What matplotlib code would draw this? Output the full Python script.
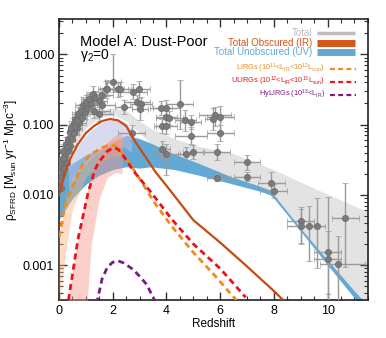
import numpy as np
import matplotlib
matplotlib.use('Agg')
import matplotlib.pyplot as plt
from matplotlib.ticker import MultipleLocator, FixedLocator, LogLocator, NullFormatter

plt.rcParams['font.family'] = ['Liberation Sans', 'DejaVu Sans']
plt.rcParams['mathtext.default'] = 'regular'

# ---- bands (log10 rho) ----
tot_z  = [0, 0.5, 1.0, 1.5, 2.0, 2.5, 3.0, 3.4, 4.3, 5.2, 6.4, 7.85, 8.0, 9.0, 10.0, 11.0, 11.5]
tot_hi = [-1.55, -1.2, -0.94, -0.81, -0.76, -0.8, -0.95, -1.05, -1.2, -1.31, -1.4, -1.62, -1.64, -1.82, -1.99, -2.16, -2.24]
tot_lo = [-1.84, -1.35, -1.05, -0.9, -0.86, -0.95, -1.12, -1.26, -1.42, -1.55, -1.74, -1.93, -2.0, -2.5, -2.96, -3.42, -3.64]

uv_z  = [0, 0.5, 1.0, 1.5, 2.0, 2.5, 3.0, 3.4, 4.3, 5.2, 6.4, 7.5, 7.85, 8.0, 9.0, 10.0, 11.0, 11.5]
uv_hi = [-1.74, -1.55, -1.43, -1.35, -1.25, -1.15, -1.2, -1.26, -1.42, -1.55, -1.74, -1.88, -1.93, -2.0, -2.48, -2.93, -3.37, -3.58]
uv_lo = [-2.35, -2.05, -1.85, -1.72, -1.64, -1.6, -1.62, -1.6, -1.64, -1.72, -1.84, -1.95, -2.0, -2.05, -2.52, -3.0, -3.47, -3.7]

lav_z  = [0.35, 0.8, 1.2, 1.6, 2.0, 2.4, 2.7]
lav_hi = [-1.55, -1.25, -1.08, -0.97, -0.92, -0.95, -1.05]
lav_lo = [-1.9, -1.65, -1.48, -1.36, -1.3, -1.32, -1.4]

lirgband_z  = [0.0, 0.25, 0.5, 1.0, 1.5, 2.0, 2.35]
lirgband_hi = [-2.6, -2.05, -1.75, -1.5, -1.33, -1.2, -1.18]
lirgband_lo = [-3.6, -2.8, -2.2, -1.75, -1.55, -1.45, -1.45]

uliband_z  = [0.3, 0.6, 0.9, 1.05, 1.2, 1.5, 1.8, 2.1, 2.35]
uliband_hi = [-3.6, -2.85, -2.2, -1.95, -1.65, -1.4, -1.25, -1.15, -1.12]
uliband_lo = [-4.5, -4.5, -4.5, -3.5, -2.7, -2.05, -1.75, -1.68, -1.7]

# ---- model curves ----
ir_z   = [0, 0.2, 0.4, 0.7, 1.0, 1.3, 1.6, 1.9, 2.2, 2.5, 2.8, 3.2, 3.6, 4.0, 5.0, 6.0, 7.0, 8.0, 8.4]
ir_log = [-2.0, -1.72, -1.5, -1.28, -1.12, -1.02, -0.95, -0.92, -0.94, -1.02, -1.22, -1.45, -1.68, -1.87, -2.36, -2.68, -3.02, -3.37, -3.52]

lirg_z   = [0, 0.25, 0.45, 0.9, 1.15, 1.6, 1.8, 2.1, 2.45, 2.95, 3.55, 4.2, 5.0, 5.8, 6.6]
lirg_log = [-2.6, -2.1, -1.93, -1.55, -1.43, -1.33, -1.3, -1.3, -1.45, -1.74, -2.11, -2.45, -2.82, -3.15, -3.5]

uli_z   = [0.35, 0.7, 1.08, 1.33, 1.45, 1.8, 2.0, 2.2, 2.5, 2.75, 3.5, 4.2, 5.0, 6.0, 6.95]
uli_log = [-3.5, -2.64, -1.97, -1.65, -1.55, -1.38, -1.33, -1.35, -1.5, -1.65, -2.0, -2.35, -2.7, -3.05, -3.46]

hy_z   = [1.4, 1.6, 1.8, 2.0, 2.2, 2.4, 2.75, 3.0, 3.27, 3.5, 3.6]
hy_log = [-3.55, -3.2, -3.03, -2.96, -2.94, -2.97, -3.06, -3.16, -3.28, -3.46, -3.53]

# ---- observational points: z, log rho, z-, z+, dex-, dex+ ----
obs_z = [0.03, 0.05, 0.08, 0.1, 0.12, 0.15, 0.18, 0.22, 0.25, 0.28, 0.32, 0.35, 0.4, 0.42, 0.48,
         0.52, 0.55, 0.6, 0.65, 0.7, 0.75, 0.8, 0.85, 0.9, 0.95, 1.0, 1.05, 1.1, 1.2, 1.25,
         1.35, 1.5, 1.6, 1.75, 1.78, 2.0, 2.2, 2.27, 2.4, 2.76, 2.98, 2.9, 3.05, 3.0, 1.5,
         1.3, 1.6, 4.5, 3.8, 4.0, 4.0, 4.1, 3.84, 4.0, 4.7, 4.9, 4.9, 3.84, 4.0, 4.72,
         5.0, 5.87, 5.8, 5.73, 6.0, 6.0, 2.7, 5.9, 7.0, 7.0, 7.9, 8.0, 9.0, 9.0, 9.3,
         9.6, 10.66, 10.0, 10.0, 10.4,
         0.06, 0.14, 0.2, 0.3, 0.45, 0.58, 0.68, 0.02]
obs_log = [-1.78, -1.62, -1.9, -1.5, -1.7, -1.38, -1.58, -1.45, -1.28, -1.55, -1.2, -1.38, -1.1, -1.3, -1.2,
           -1.0, -1.12, -0.92, -1.05, -0.85, -0.98, -0.8, -0.9, -0.72, -0.82, -0.68, -0.76, -0.64, -0.7, -0.57,
           -0.62, -0.66, -0.58, -0.5, -0.49, -0.39, -0.49, -0.49, -0.75, -0.54, -0.5, -0.68, -0.7, -0.78, -0.85,
           -0.8, -0.72, -0.71, -0.77, -0.77, -0.89, -0.9, -1.02, -1.02, -0.94, -0.96, -1.16, -1.35, -1.42, -1.42,
           -1.39, -1.39, -0.87, -0.92, -0.89, -1.12, -1.12, -1.76, -1.53, -1.74, -1.83, -1.94, -2.38, -2.45, -2.44,
           -2.44, -2.33, -2.81, -2.91, -2.99,
           -1.72, -1.48, -1.62, -1.32, -1.05, -1.02, -0.95, -1.68]
obs_zlo = [0.03, 0.05, 0.05, 0.1, 0.08, 0.1, 0.1, 0.1, 0.1, 0.1, 0.1, 0.15, 0.1, 0.2, 0.1,
           0.15, 0.2, 0.1, 0.2, 0.2, 0.25, 0.2, 0.2, 0.3, 0.2, 0.2, 0.3, 0.3, 0.2, 0.25,
           0.3, 0.3, 0.4, 0.3, 0.25, 0.3, 0.2, 0.4, 0.3, 0.5, 0.4, 0.5, 0.4, 0.3, 0.5,
           0.6, 0.5, 0.5, 0.4, 0.5, 0.4, 0.5, 0.3, 0.4, 0.4, 0.4, 0.6, 0.3, 0.5, 0.3,
           0.4, 0.5, 0.6, 0.3, 0.5, 0.5, 0.5, 0.4, 0.5, 0.5, 0.5, 0.5, 0.5, 0.5, 0.3,
           0.3, 0.5, 0.5, 0.5, 0.7,
           0.04, 0.06, 0.1, 0.1, 0.1, 0.1, 0.15, 0.02]
obs_zhi = [0.03, 0.05, 0.05, 0.1, 0.08, 0.1, 0.1, 0.1, 0.1, 0.1, 0.1, 0.15, 0.1, 0.2, 0.1,
           0.15, 0.2, 0.1, 0.2, 0.2, 0.25, 0.2, 0.2, 0.3, 0.2, 0.2, 0.3, 0.3, 0.2, 0.25,
           0.3, 0.3, 0.4, 0.3, 0.25, 0.3, 0.2, 0.4, 0.3, 0.5, 0.4, 0.5, 0.4, 0.3, 0.5,
           0.6, 0.5, 0.5, 0.4, 0.5, 0.4, 0.5, 0.3, 0.4, 0.4, 0.4, 0.6, 0.3, 0.5, 0.3,
           0.4, 0.5, 0.6, 0.3, 0.5, 0.5, 0.5, 0.5, 0.5, 0.5, 0.5, 0.5, 0.5, 0.5, 0.3,
           0.3, 0.5, 0.5, 0.5, 1.0,
           0.04, 0.06, 0.1, 0.1, 0.1, 0.1, 0.15, 0.02]
obs_dlo = [0.1, 0.12, 0.1, 0.15, 0.1, 0.15, 0.1, 0.12, 0.1, 0.12, 0.1, 0.12, 0.1, 0.1, 0.1,
           0.12, 0.1, 0.1, 0.1, 0.12, 0.1, 0.1, 0.1, 0.12, 0.1, 0.1, 0.12, 0.1, 0.1, 0.12,
           0.1, 0.12, 0.1, 0.12, 0.1, 0.15, 0.12, 0.1, 0.1, 0.1, 0.12, 0.1, 0.1, 0.15, 0.1,
           0.1, 0.1, 0.35, 0.1, 0.12, 0.15, 0.1, 0.1, 0.12, 0.15, 0.1, 0.12, 0.12, 0.3, 0.1,
           0.1, 0.12, 0.15, 0.15, 0.2, 0.12, 0.12, 0.05, 0.12, 0.06, 0.1, 0.1, 0.3, 0.25, 0.5,
           0.6, 0.7, 0.7, 0.5, 0.6,
           0.1, 0.1, 0.12, 0.1, 0.1, 0.1, 0.1, 0.1]
obs_dhi = [0.1, 0.1, 0.1, 0.12, 0.1, 0.1, 0.1, 0.12, 0.1, 0.1, 0.1, 0.1, 0.1, 0.1, 0.1,
           0.1, 0.1, 0.1, 0.1, 0.1, 0.1, 0.1, 0.1, 0.12, 0.1, 0.1, 0.1, 0.1, 0.1, 0.12,
           0.1, 0.12, 0.1, 0.12, 0.12, 0.4, 0.1, 0.1, 0.1, 0.12, 0.12, 0.1, 0.1, 0.1, 0.1,
           0.1, 0.1, 0.35, 0.1, 0.12, 0.1, 0.1, 0.1, 0.15, 0.15, 0.1, 0.12, 0.12, 0.15, 0.1,
           0.1, 0.12, 0.12, 0.15, 0.15, 0.12, 0.12, 0.06, 0.1, 0.07, 0.15, 0.1, 0.2, 0.25, 0.28,
           0.4, 0.5, 0.78, 0.4, 0.4,
           0.1, 0.1, 0.1, 0.1, 0.1, 0.1, 0.1, 0.1]

def p(a):
    return 10 ** np.array(a)

fig = plt.figure(figsize=(3.86, 3.38), dpi=100)
ax = fig.add_axes([0.153, 0.112, 0.800, 0.831])

ax.fill_between(tot_z, p(tot_lo), p(tot_hi), color='#e3e3e3', lw=0, zorder=1)
ax.fill_between(uv_z, p(uv_lo), p(uv_hi), color='#62a9d6', lw=0, zorder=2)
ax.fill_between(lav_z, p(lav_lo), p(lav_hi), color='#b9bde3', alpha=0.55, lw=0, zorder=3)
ax.fill_between(lirgband_z, p(lirgband_lo), p(lirgband_hi), color='#fbb27a', alpha=0.45, lw=0, zorder=3)
ax.fill_between(uliband_z, p(uliband_lo), p(uliband_hi), color='#f7968a', alpha=0.45, lw=0, zorder=3)

oz = np.array(obs_z)
ol = np.array(obs_log)
yv = 10 ** ol
yerr = [yv - 10 ** (ol - np.array(obs_dlo)), 10 ** (ol + np.array(obs_dhi)) - yv]
ax.errorbar(oz, yv, xerr=[obs_zlo, obs_zhi], yerr=yerr, fmt='o', ms=4.5,
            mfc='#7a7a7a', mec='#6a6a6a', mew=0.5, ecolor='#9a9a9a', elinewidth=1.0,
            capsize=2, capthick=1.0, zorder=4)

ax.plot(ir_z, p(ir_log), color='#c64b12', lw=1.6, zorder=6)
ax.plot(lirg_z, p(lirg_log), color='#ef8a1c', lw=2.0, dashes=(2.2, 1.5), zorder=6)
ax.plot(uli_z, p(uli_log), color='#e8141c', lw=2.0, dashes=(2.2, 1.5), zorder=6)
ax.plot(hy_z, p(hy_log), color='#7b1a86', lw=2.0, dashes=(2.2, 1.5), zorder=6)

ax.set_yscale('log')
ax.set_xlim(0, 11.5)
ax.set_ylim(10 ** -3.5, 10 ** 0.5)
ax.xaxis.set_major_locator(MultipleLocator(2))
ax.xaxis.set_minor_locator(MultipleLocator(0.5))
ax.yaxis.set_major_locator(FixedLocator([0.001, 0.01, 0.1, 1.0]))
ax.set_yticklabels(['0.001', '0.010', '0.100', '1.000'])
ax.yaxis.set_minor_locator(LogLocator(base=10, subs=np.arange(2, 10)))
ax.yaxis.set_minor_formatter(NullFormatter())
ax.tick_params(which='both', direction='in', top=True, right=True, labelsize=9, color='#333333')
ax.tick_params(which='major', length=6, width=1)
ax.tick_params(which='minor', length=3, width=0.8)
for s in ax.spines.values():
    s.set_linewidth(1.2)
    s.set_color('#222222')

ax.set_xlabel('Redshift', fontsize=8.5, labelpad=1)
ax.set_ylabel(r'$\rho_{SFRD}$ [M$_{sun}$ yr$^{-1}$ Mpc$^{-3}$]', fontsize=8.5, labelpad=2)

ax.text(0.068, 0.92, 'Model A: Dust-Poor', transform=ax.transAxes, fontsize=10.5, va='center')
ax.text(0.068, 0.87, r'$\gamma_2$=0', transform=ax.transAxes, fontsize=10, va='center')

leg1 = [('Total', '#bdbdbd', 0.950, 2.5),
        ('Total Obscured (IR)', '#d5561a', 0.915, 5.0),
        ('Total Unobscured (UV)', '#62a9d6', 0.883, 5.0)]
for txt, c, yy, w in leg1:
    ax.text(0.819, yy, txt, color=c, fontsize=7, ha='right', va='center', transform=ax.transAxes)
    ax.plot([0.835, 0.958], [yy, yy], color=c, lw=w, transform=ax.transAxes, solid_capstyle='butt', zorder=7)

leg2 = [(r'LIRGs (10$^{11}$<L$_{IR}$<10$^{12}$L$_{sun}$)', '#ef8a1c', 0.824),
        (r'ULIRGs (10$^{12}$<L$_{IR}$<10$^{13}$L$_{sun}$)', '#e8141c', 0.778),
        (r'HyLIRGs (10$^{13}$<L$_{IR}$)', '#7b1a86', 0.732)]
for txt, c, yy in leg2:
    ax.text(0.861, yy, txt, color=c, fontsize=5.3, ha='right', va='center', transform=ax.transAxes)
    ax.plot([0.877, 0.961], [yy, yy], color=c, lw=1.6, dashes=(2.2, 1.5), transform=ax.transAxes, zorder=7)

fig.savefig('out.png', dpi=100)
